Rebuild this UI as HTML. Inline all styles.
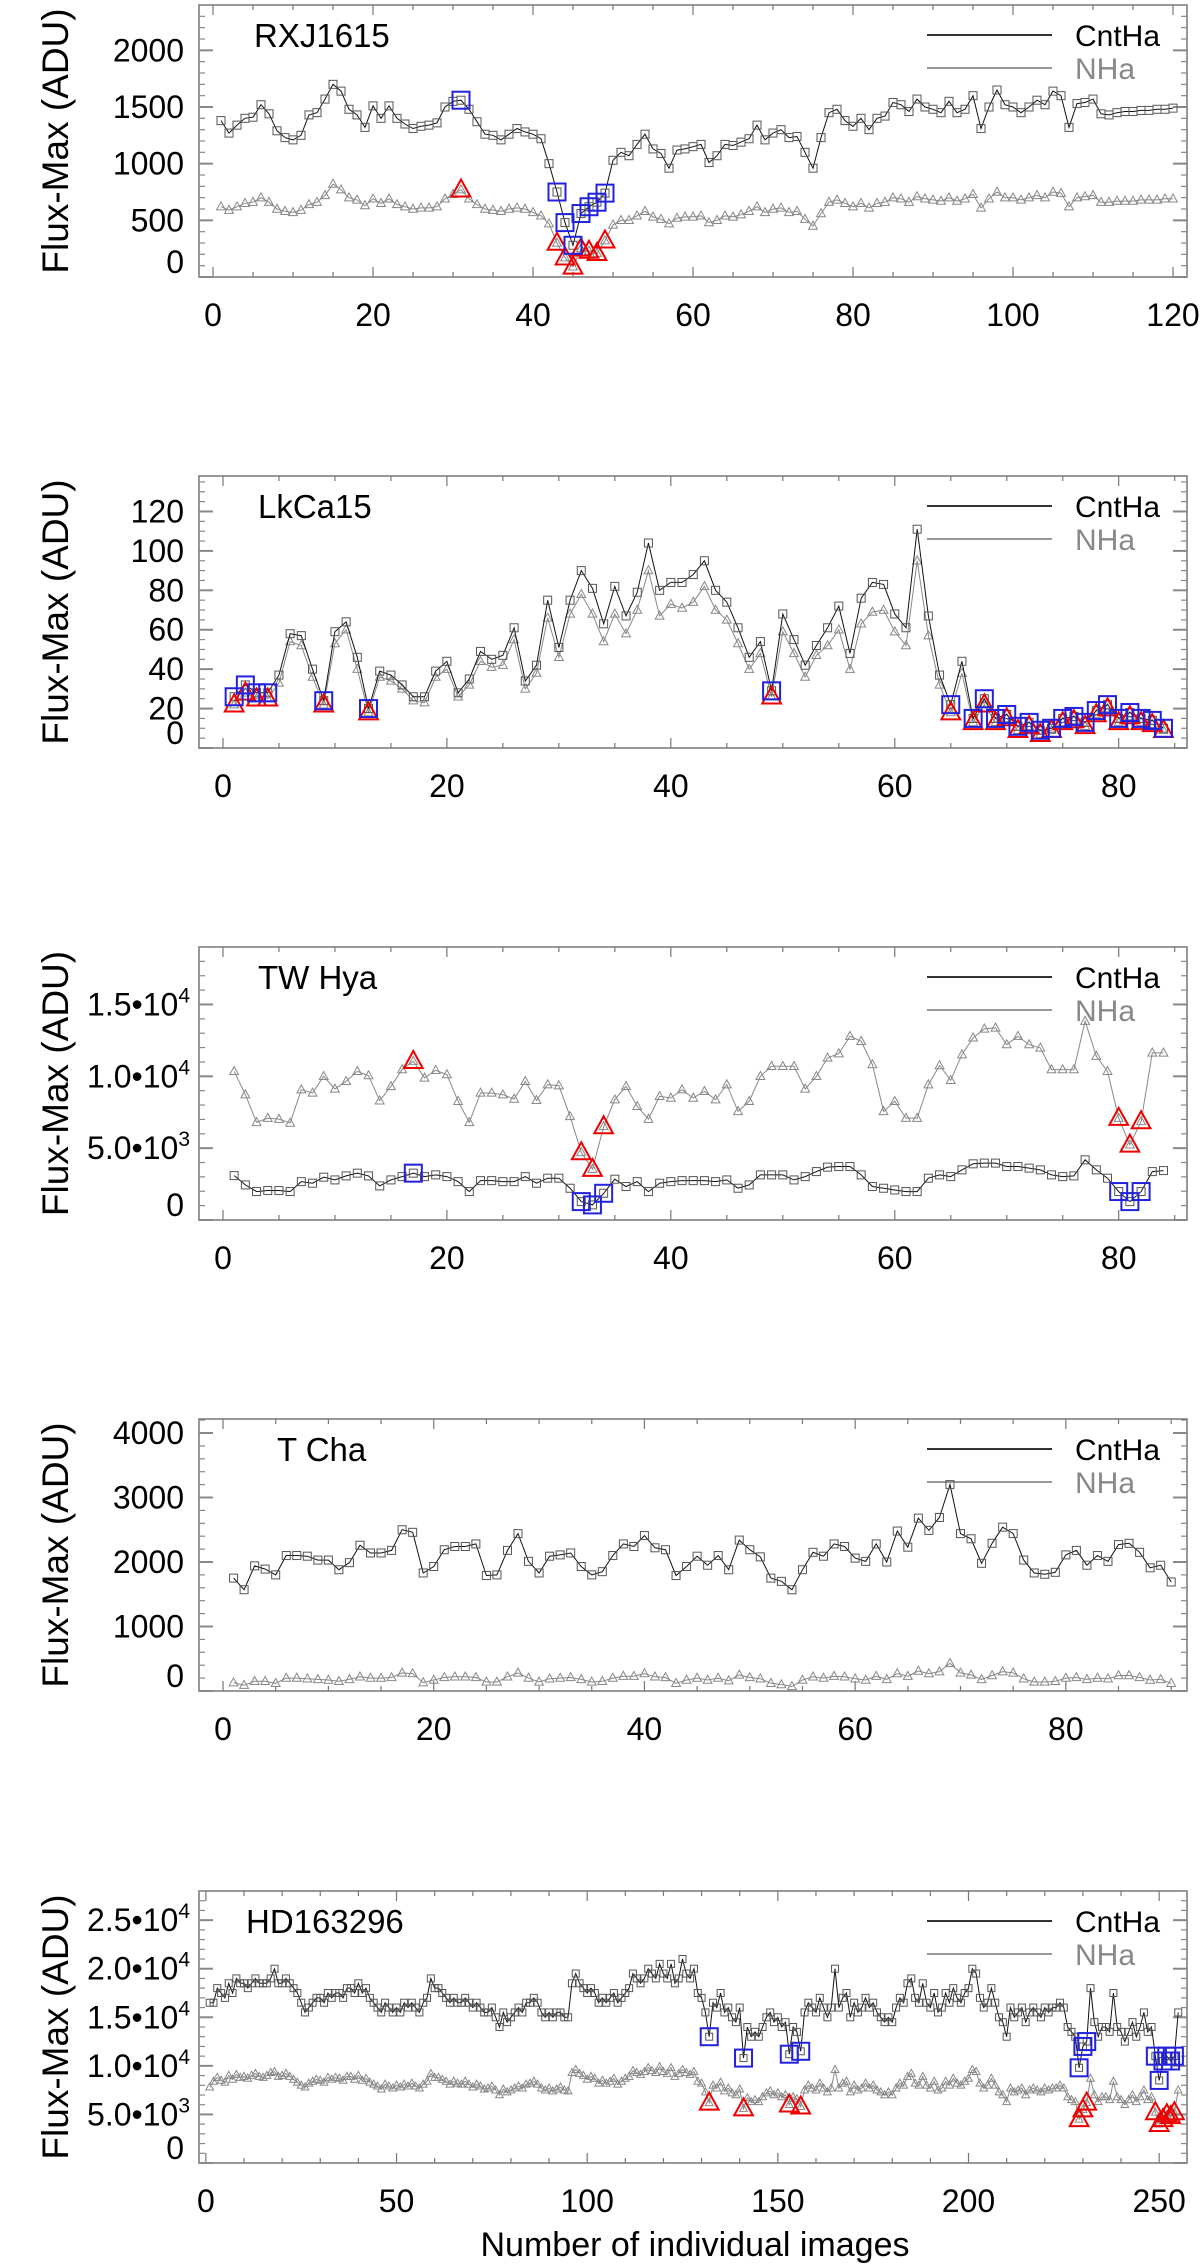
<!DOCTYPE html>
<html><head><meta charset="utf-8"><style>
html,body{margin:0;padding:0;background:#fff;}
svg{display:block;font-family:"Liberation Sans",Arial,sans-serif;}
</style></head><body>
<svg id="fig" width="1200" height="2266" viewBox="0 0 1200 2266" xmlns="http://www.w3.org/2000/svg">
<text x="695" y="2256" font-size="34" text-anchor="middle" fill="#000">Number of individual images</text>
</svg>
<script>
// ---------- DATA ----------
const rxjCnt=[1380,1270,1340,1400,1410,1520,1440,1290,1230,1210,1250,1430,1450,1570,1700,1640,1480,1430,1320,1510,1400,1510,1400,1350,1310,1330,1340,1360,1500,1550,1560,1480,1370,1260,1250,1210,1260,1310,1280,1260,1220,1000,750,480,280,560,620,660,740,1030,1100,1070,1170,1260,1130,1090,960,1120,1130,1150,1170,1010,1070,1170,1160,1190,1220,1340,1210,1270,1300,1230,1240,1100,960,1230,1450,1480,1380,1330,1400,1300,1400,1420,1540,1520,1460,1570,1500,1480,1450,1550,1450,1480,1600,1310,1500,1650,1520,1500,1450,1500,1560,1520,1640,1600,1320,1530,1540,1570,1440,1430,1450,1460,1460,1470,1470,1480,1480,1490];
const rxjNHa=[620,590,620,650,660,700,660,600,580,570,590,640,660,720,820,770,700,680,630,690,650,690,640,620,600,610,610,620,690,730,770,690,640,600,590,580,600,610,600,570,540,470,300,170,90,250,230,210,320,460,500,500,540,580,530,510,470,520,530,530,540,480,500,540,530,550,580,620,570,600,610,570,580,510,450,560,660,680,650,620,650,610,650,660,700,690,660,710,690,680,670,700,670,690,730,610,690,750,700,700,680,700,720,700,750,740,620,700,710,720,660,660,670,670,670,680,680,680,690,690];
const rxjFlagCnt=[31,43,44,45,46,47,48,49];
const rxjFlagNHa=[31,43,44,45,46,47,48,49];

const lkCnt=[26,32,28,28,37,58,57,40,24,59,64,46,20,39,37,32,26,26,39,44,28,35,49,45,47,61,34,42,75,51,75,90,81,63,82,67,79,104,80,84,84,88,95,80,74,61,46,54,29,68,55,42,52,61,72,48,76,84,83,68,61,111,67,37,22,44,15,25,15,17,11,13,9,10,15,16,13,19,22,15,18,15,14,10];
const lkNHa=[22,28,25,25,33,54,52,36,22,53,60,40,18,36,34,30,24,23,36,40,26,32,44,41,42,55,30,38,66,46,68,78,68,54,68,58,70,90,67,73,71,74,82,70,65,53,40,48,26,59,48,36,47,52,60,40,63,69,70,59,52,95,57,32,18,38,13,22,13,15,9,11,7,9,13,14,11,17,20,13,16,13,12,9];
const lkFlag=[1,2,3,4,9,13,49,65,67,68,69,70,71,72,73,74,75,76,77,78,79,80,81,82,83,84];

const twCnt=[3090,2440,1980,2050,2050,1980,2670,2560,2980,2790,3070,3260,3070,2370,2790,3020,3260,3020,3140,3020,2670,1980,2740,2740,2670,2670,3020,2560,2910,2910,2210,1280,1050,1860,2840,2330,2670,1980,2560,2670,2740,2740,2740,2670,2790,2210,2440,3140,3140,3140,2790,3020,3370,3680,3720,3720,3140,2330,2210,2090,1980,1980,2910,3140,3020,3490,3910,3960,3960,3720,3720,3610,3490,3140,3020,3070,4190,3490,2910,1980,1280,1980,3370,3440];
const twNHa=[10350,8720,6790,7090,7020,6750,9070,8840,10000,9120,9650,10350,10050,8300,9300,10470,11050,9890,10420,10120,8260,6790,8840,8840,8720,8420,9650,8330,9420,9350,7210,4700,3540,6510,8370,9300,7910,7020,8610,8490,9070,8490,8960,8370,9420,7560,8260,10000,10700,10700,10700,9120,10000,11280,11580,12790,12440,10820,7560,8260,7090,7090,9420,10750,9720,11510,12680,13300,13370,12210,12790,12210,11980,10470,10470,10470,13840,11400,10350,7090,5230,6860,11630,11630];
const twFlagCnt=[17,32,33,34,80,81,82];
const twFlagNHa=[17,32,33,34,80,81,82];

const tchaCnt=[1750,1570,1940,1890,1800,2100,2100,2090,2030,2030,1880,1990,2260,2140,2140,2180,2500,2460,1830,1930,2190,2240,2240,2280,1790,1800,2180,2440,2010,1830,2090,2110,2140,1930,1800,1850,2100,2280,2240,2410,2220,2190,1790,1930,2090,1950,2100,1880,2340,2190,2080,1750,1700,1570,1880,2150,2090,2280,2240,2060,2010,2280,2000,2480,2230,2680,2490,2690,3200,2440,2360,1980,2290,2540,2440,2030,1830,1810,1840,2110,2180,1950,2100,2010,2270,2290,2150,1910,1950,1690];
const tchaNHa=[130,90,150,150,120,200,200,190,180,170,150,180,220,200,200,210,280,270,130,170,210,220,220,210,140,140,220,280,200,140,190,200,210,180,140,150,200,230,230,270,220,210,120,170,200,170,200,160,250,210,190,120,100,70,170,220,200,230,220,190,170,230,180,270,230,310,270,300,430,280,250,180,240,300,280,190,140,140,150,200,210,180,200,190,240,240,210,170,180,120];
const tchaFlagCnt=[];
const tchaFlagNHa=[];

const hdCnt=[16500,16500,18000,17500,17000,18500,17500,19000,18500,18500,18000,18500,19000,18500,18500,18500,19000,20000,18500,18500,
19000,18500,18000,17500,16500,15500,16000,16500,17000,17000,16500,17500,17000,17500,17500,17000,18000,18000,17500,18500,
17500,18000,17000,16500,16000,15500,16500,16000,15500,16000,15500,16500,16000,16500,16000,15500,16500,17000,19000,18000,
18000,17500,17000,16500,17000,16500,16500,17000,16500,16000,16500,16000,15500,15500,16000,15000,14000,15500,14500,15000,
15500,16000,15500,16500,16500,17000,16500,15500,15000,15500,15000,15500,15500,15000,15000,18500,19500,18500,18000,17500,
18000,17500,16500,17000,16500,17000,17500,16500,17000,17500,18000,19500,19000,18500,19000,20000,19500,19000,20500,19500,
19000,20500,18500,19000,21000,19500,19000,20000,17500,17000,15500,13000,16500,16000,17500,15500,16000,15000,14500,16000,
10800,14000,13000,13500,13000,14000,15000,15500,14500,15000,14000,14500,11200,14000,13500,11500,15500,16500,16000,15500,
17000,16000,15000,16000,20000,16000,17000,17500,15000,16500,15500,16000,17000,16000,16500,15500,15000,14500,15000,14500,
16000,17000,16500,18500,19000,17000,16500,18500,16500,16000,17500,15500,16000,17500,16500,18000,17000,16500,17500,18000,
20000,19500,17000,16000,16500,18000,16500,15000,14500,13000,16000,15000,15500,16000,14500,15500,16000,15500,15000,16000,
15500,16000,16000,16500,16000,14000,13500,13000,9800,12000,12500,18000,14500,13000,14000,14000,13500,17500,14000,13500,
12500,13500,14500,13000,14000,15500,13500,14000,11000,8500,10500,11000,10500,11000,15500];
const hdNHa=[7800,8400,8800,8500,8300,9000,8600,9100,8800,8900,8700,9000,9200,8900,8800,9000,9300,9400,8900,9000,
9200,8900,8600,8300,8000,7800,8200,8400,8600,8500,8300,8800,8600,8800,8700,8500,8900,8900,8600,9000,
8500,8700,8300,8100,7900,7600,8100,7900,7700,8000,7800,8100,7900,8200,7900,7700,8100,8400,9200,8800,
8800,8600,8400,8100,8400,8200,8100,8400,8100,7800,8100,7900,7600,7700,7900,7500,7000,7600,7300,7500,
7700,7900,7700,8100,8200,8400,8100,7700,7500,7700,7400,7600,7800,7500,7400,9300,9600,9200,9000,8600,
8900,8700,8200,8500,8200,8400,8700,8100,8400,8700,8900,9500,9300,9100,9400,9800,9500,9300,9900,9400,
9200,9800,8900,9200,9600,9300,9100,9400,8400,8200,7300,6200,8000,7700,8300,7400,7700,7200,7000,7600,
5600,6700,6300,6500,6300,6800,7200,7400,7000,7200,6800,7000,6000,6800,6600,5800,7500,8000,7700,7500,
8200,7700,7300,7700,9600,7700,8200,8400,7300,8000,7500,7700,8200,7700,8000,7500,7300,7000,7300,7000,
7700,8200,8000,8900,9200,8200,8000,8900,8000,7700,8400,7500,7700,8400,8000,8700,8200,8000,8400,8700,
9600,9400,8200,7700,8000,8700,8000,7300,7000,6300,7700,7300,7500,7700,7000,7500,7700,7500,7300,7700,
7500,7700,7700,8000,7700,6800,6500,6300,4500,5500,6200,8700,7000,6300,6800,6800,6500,8400,6800,6500,
6000,6500,7000,6300,6800,7500,6500,6800,5200,4000,4500,5000,4800,5200,7500];
const hdFlag=[132,141,153,156,229,230,231,249,250,251,252,253,254];

const panelNames=["RXJ1615","LkCa15","TW Hya","T Cha","HD163296"];
const xTickStep=[20,20,20,20,50];
const yTickStep=[500,20,5000,1000,5000];

// ---------- LAYOUT (geometry, not data) ----------
const NS="http://www.w3.org/2000/svg";
const svg=document.getElementById('fig');
const L=199,R=1187;
const panels=[
 {name:panelNames[0],slug:"rxj1615",top:5,bot:277,x0:-1.75,x1:121.75,y1:2400,xs:xTickStep[0],xm:5,ys:yTickStep[0],ym:100,exp:false,cnt:rxjCnt,nha:rxjNHa,fc:rxjFlagCnt,fn:rxjFlagNHa,tx:254,ms:8},
 {name:panelNames[1],slug:"lkca15",top:476,bot:748,x0:-2.14,x1:86.1,y1:138,xs:xTickStep[1],xm:5,ys:yTickStep[1],ym:5,exp:false,cnt:lkCnt,nha:lkNHa,fc:lkFlag,fn:lkFlag,tx:258,ms:8},
 {name:panelNames[2],slug:"tw-hya",top:947,bot:1220,x0:-2.14,x1:86.1,y1:19000,xs:xTickStep[2],xm:5,ys:yTickStep[2],ym:1000,exp:true,cnt:twCnt,nha:twNHa,fc:twFlagCnt,fn:twFlagNHa,tx:258,ms:8},
 {name:panelNames[3],slug:"t-cha",top:1419,bot:1691,x0:-2.28,x1:91.5,y1:4217,xs:xTickStep[3],xm:5,ys:yTickStep[3],ym:200,exp:false,cnt:tchaCnt,nha:tchaNHa,fc:tchaFlagCnt,fn:tchaFlagNHa,tx:277,ms:8},
 {name:panelNames[4],slug:"hd163296",top:1891,bot:2163,x0:-1.8,x1:257.3,y1:28000,xs:xTickStep[4],xm:10,ys:yTickStep[4],ym:1000,exp:true,cnt:hdCnt,nha:hdNHa,fc:hdFlag,fn:hdFlag,tx:246,ms:7}
];
function mk(tag,attrs,parent){const e=document.createElementNS(NS,tag);for(const k in attrs)e.setAttribute(k,attrs[k]);(parent||svg).appendChild(e);return e;}

panels.forEach((p)=>{
 const g=mk('g',{});
 
 
 const X=v=>L+(v-p.x0)/(p.x1-p.x0)*(R-L);
 const Y=v=>p.bot-v/p.y1*(p.bot-p.top);
 const box=mk('rect',{x:L,y:p.top,width:R-L,height:p.bot-p.top,fill:'none',stroke:'#777','stroke-width':1.5},g);
 
 
 for(let v=Math.ceil(p.x0/p.xm)*p.xm; v<=p.x1; v+=p.xm){
  const maj=(Math.round(v)%p.xs===0);const len=maj?10:5;const x=X(v);
  const t1=mk('line',{x1:x,x2:x,y1:p.bot,y2:p.bot-len,stroke:'#777','stroke-width':1.2},g);
  
  
  const t2=mk('line',{x1:x,x2:x,y1:p.top,y2:p.top+len,stroke:'#777','stroke-width':1.2},g);
  
  
  if(maj){const tl=mk('text',{x:x,y:p.bot+49,'font-size':32,'text-anchor':'middle',fill:'#000'},g);tl.textContent=String(Math.round(v));
   
   }
 }
 for(let v=0; v<=p.y1; v+=p.ym){
  const maj=(Math.round(v)%p.ys===0);const len=maj?14:6;const y=Y(v);
  const t1=mk('line',{x1:L,x2:L+len,y1:y,y2:y,stroke:'#888','stroke-width':maj?2:1.2},g);
  
  
  const t2=mk('line',{x1:R,x2:R-len,y1:y,y2:y,stroke:'#888','stroke-width':maj?2:1.2},g);
  
  
  if(maj){
   const yy=(v===0)?y-4:y+11;
   const tl=mk('text',{x:184,y:yy,'font-size':32,'text-anchor':'end',fill:'#000'},g);
   
   
   if(p.exp&&v!==0){const e=Math.floor(Math.log10(v));const m=(v/Math.pow(10,e)).toFixed(1);
     const a=mk('tspan',{},tl);a.textContent=m+'\u2022'+'10';
     const b=mk('tspan',{dy:-13,'font-size':21},tl);b.textContent=String(e);
     tl.setAttribute('x',190);
   } else tl.textContent=String(v);
  }
 }
 const cy=(p.top+p.bot)/2;
 const yt=mk('text',{x:0,y:0,'font-size':37,'text-anchor':'middle',fill:'#000',transform:'translate(68,'+cy+') rotate(-90)'},g);
 yt.textContent='Flux-Max (ADU)';
 
 
 const tt=mk('text',{x:p.tx,y:p.top+42,'font-size':33,fill:'#000'},g);tt.textContent=p.name;
 
 
 const ly1=p.top+30, ly2=p.top+63;
 const l1=mk('line',{x1:927,x2:1052,y1:ly1,y2:ly1,stroke:'#333','stroke-width':2},g);
 
 
 const lt1=mk('text',{x:1075,y:ly1+11,'font-size':30,fill:'#000'},g);lt1.textContent='CntHa';
 
 
 const l2=mk('line',{x1:927,x2:1052,y1:ly2,y2:ly2,stroke:'#999','stroke-width':2},g);
 
 
 const lt2=mk('text',{x:1075,y:ly2+11,'font-size':30,fill:'#888'},g);lt2.textContent='NHa';
 
 
 const s=p.ms;
 const nPts=p.nha.map((v,i)=>X(i+1).toFixed(1)+','+Y(v).toFixed(1)).join(' ');
 const nl=mk('polyline',{points:nPts,fill:'none',stroke:'#888','stroke-width':1},g);
 
 
 p.nha.forEach((v,i)=>{const x=X(i+1),y=Y(v);
  const tr=mk('polygon',{points:`${x},${y-s*0.6} ${x-s*0.55},${y+s*0.4} ${x+s*0.55},${y+s*0.4}`,fill:'none',stroke:'#888','stroke-width':1},g);
  
  });
 const cPts=p.cnt.map((v,i)=>X(i+1).toFixed(1)+','+Y(v).toFixed(1)).join(' ');
 const cl=mk('polyline',{points:cPts,fill:'none',stroke:'#111','stroke-width':1},g);
 
 
 p.cnt.forEach((v,i)=>{const x=X(i+1),y=Y(v);
  const sq=mk('rect',{x:x-s/2,y:y-s/2,width:s,height:s,fill:'none',stroke:'#555','stroke-width':1},g);
  
  });
 p.fn.forEach(n=>{const x=X(n),y=Y(p.nha[n-1]);const S=17;
  const tr=mk('polygon',{points:`${x},${y-S*0.6} ${x-S*0.55},${y+S*0.4} ${x+S*0.55},${y+S*0.4}`,fill:'none',stroke:'#e00','stroke-width':2},g);
  
  });
 p.fc.forEach(n=>{const x=X(n),y=Y(p.cnt[n-1]);const S=17;
  const sq=mk('rect',{x:x-S/2,y:y-S/2,width:S,height:S,fill:'none',stroke:'#22d','stroke-width':2},g);
  
  });
});
</script>
</body></html>
